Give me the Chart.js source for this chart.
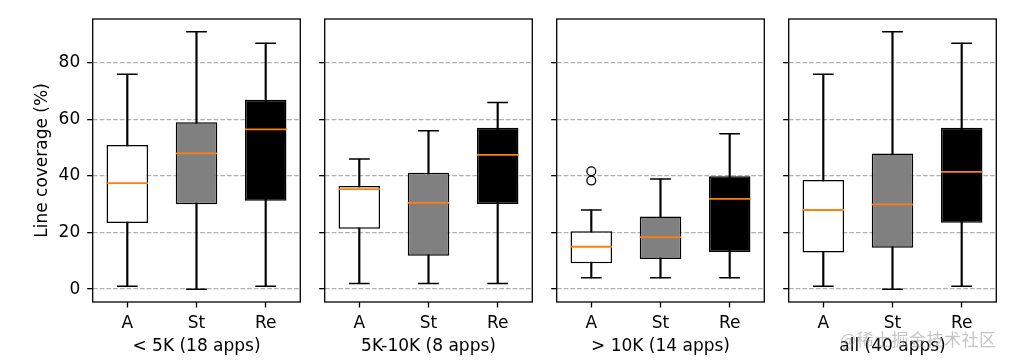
<!DOCTYPE html>
<html>
<head>
<meta charset="utf-8">
<script src="https://cdn.jsdelivr.net/npm/chart.js@4/dist/chart.umd.min.js"></script>
<style>
  html, body { margin: 0; padding: 0; background: #fff; }
  #wrap { position: relative; width: 1014px; height: 364px; overflow: hidden; background: #fff; }
  #wrap canvas { position: absolute; top: 0; }
  #wm { position: absolute; left: 840px; top: 329px; font-family: "Noto Sans CJK SC", sans-serif; font-size: 17px; line-height: 20px; color: rgba(150,150,150,0.55); white-space: nowrap; letter-spacing: 0.5px; }
</style>
</head>
<body>
<div id="wrap"><div id="wm">@稀土掘金技术社区</div></div>
<script>
// ---- data ----
const categories = ['A', 'St', 'Re'];
const panelTitles = ['< 5K (18 apps)', '5K-10K (8 apps)', '> 10K (14 apps)', 'all (40 apps)'];
const yTicks = [0, 20, 40, 60, 80];
const yTitle = 'Line coverage (%)';
// per panel: values for [A, St, Re]
const whiskerLow  = [[1, 0, 1], [2, 2, 2], [4, 4, 4], [1, 0, 1]];
const q1          = [[23.4, 30, 31.3], [21.4, 11.8, 30.1], [9.2, 10.7, 13.1], [13, 14.6, 23.5]];
const median      = [[37.5, 48, 56.5], [35.4, 30.5, 47.5], [15, 18.4, 31.9], [28, 30, 41.5]];
const q3          = [[51, 59, 67], [36.5, 41.2, 57.1], [20.5, 25.7, 39.9], [38.6, 48, 57.1]];
const whiskerHigh = [[76, 91, 87], [46, 56, 66], [28, 39, 55], [76, 91, 87]];
const outliers    = [[[], [], []], [[], [], []], [[41.7, 38.4], [], []], [[], [], []]];

// ---- style / layout ----
const boxColors = ['#ffffff', '#808080', '#000000'];
const medianColor = '#ff7f0e';
const Y_MIN = -4.55, Y_MAX = 95.55;
const H = 364, PLOT_TOP = 19, PLOT_BOTTOM = 302;
const plotLefts = [92.7, 324.7, 556.7, 788.7];
const PLOT_W = 207.6;
const BOX_FRAC = 0.6;
const FS = 17;

Chart.defaults.font.family = '"DejaVu Sans", sans-serif';
Chart.defaults.font.size = FS;
Chart.defaults.color = '#000';

const framePlugin = {
  id: 'frame',
  afterDraw(chart) {
    const { ctx, chartArea: a } = chart;
    ctx.save();
    ctx.strokeStyle = '#000';
    ctx.lineWidth = 1.3;
    ctx.strokeRect(a.left, a.top, a.right - a.left, a.bottom - a.top);
    ctx.restore();
  }
};

const wrap = document.getElementById('wrap');

function makePanel(p) {
  const left = p === 0 ? 0 : Math.floor(plotLefts[p] - 12);
  const yW = plotLefts[p] - left;
  const width = Math.ceil(yW + PLOT_W + 3);
  const padRight = width - yW - PLOT_W;
  const cv = document.createElement('canvas');
  cv.width = width; cv.height = H;
  cv.style.left = left + 'px';
  cv.style.width = width + 'px'; cv.style.height = H + 'px';
  wrap.insertBefore(cv, document.getElementById('wm'));

  const boxW = PLOT_W / categories.length * BOX_FRAC;
  const capR = boxW / 4, medR = boxW / 2;

  new Chart(cv, {
    type: 'bar',
    data: {
      labels: categories,
      datasets: [
        { type: 'bar', data: categories.map((c, i) => [whiskerLow[p][i], whiskerHigh[p][i]]),
          backgroundColor: '#000', borderWidth: 0, barThickness: 1.5, grouped: false, order: 3 },
        { type: 'bar', data: categories.map((c, i) => [q1[p][i], q3[p][i]]),
          backgroundColor: boxColors, borderColor: '#000', borderWidth: 1.5, borderSkipped: false,
          barPercentage: BOX_FRAC, categoryPercentage: 1, grouped: false, order: 2 },
        { type: 'line', data: categories.flatMap((c, i) => [{ x: c, y: whiskerLow[p][i] }, { x: c, y: whiskerHigh[p][i] }]),
          showLine: false, pointStyle: 'line', pointRadius: capR, pointBorderColor: '#000', pointBorderWidth: 1.5, order: 1 },
        { type: 'line', data: categories.map((c, i) => ({ x: c, y: median[p][i] })),
          showLine: false, pointStyle: 'line', pointRadius: medR, pointBorderColor: medianColor, pointBorderWidth: 1.8, order: 0 },
        { type: 'line', data: categories.flatMap((c, i) => outliers[p][i].map(v => ({ x: c, y: v }))),
          showLine: false, pointStyle: 'circle', pointRadius: 4.4, pointBackgroundColor: 'rgba(0,0,0,0)',
          pointBorderColor: '#000', pointBorderWidth: 1.3, order: 0 }
      ]
    },
    options: {
      responsive: false, animation: false, devicePixelRatio: 1, events: [],
      layout: { autoPadding: false, padding: { top: PLOT_TOP, right: padRight, left: 0, bottom: 0 } },
      plugins: { legend: { display: false }, tooltip: { enabled: false } },
      scales: {
        x: {
          type: 'category', offset: true,
          grid: { display: true, offset: false, drawOnChartArea: false, drawTicks: true, tickLength: 5.5, tickColor: '#000', tickWidth: 1.3, color: '#000' },
          border: { display: false },
          ticks: { color: '#000', font: { size: FS }, padding: 6, maxRotation: 0, autoSkip: false },
          title: { display: true, text: panelTitles[p], color: '#000', font: { size: FS }, padding: { top: 0, bottom: 7 } },
          afterFit: s => { s.height = H - PLOT_BOTTOM; }
        },
        y: {
          type: 'linear', min: Y_MIN, max: Y_MAX, bounds: 'data',
          afterBuildTicks: s => { s.ticks = yTicks.map(v => ({ value: v })); },
          grid: { color: '#b0b0b0', lineWidth: 1.3, drawTicks: true, tickLength: 5.5, tickColor: '#000', tickWidth: 1.3 },
          border: { display: false, dash: [4.7, 2] },
          ticks: { display: p === 0, color: '#000', font: { size: FS }, padding: 7 },
          title: { display: p === 0, text: yTitle, color: '#000', font: { size: FS }, padding: { top: 32.8, bottom: 0 } },
          afterFit: s => { s.width = yW; }
        }
      }
    },
    plugins: [framePlugin]
  });
}

for (let p = 0; p < panelTitles.length; p++) makePanel(p);
</script>
</body>
</html>
